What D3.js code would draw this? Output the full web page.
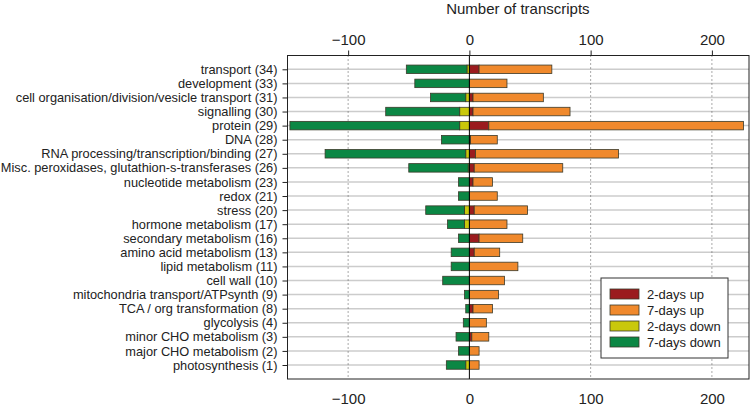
<!DOCTYPE html>
<html><head><meta charset="utf-8">
<script src="https://cdn.jsdelivr.net/npm/d3@7/dist/d3.min.js"></script>
<style>body{margin:0;background:#fff}svg{display:block;font-family:"Liberation Sans",Arial,sans-serif}</style>
</head><body><svg id="c" width="750" height="406"></svg>
<script>
const categories = ["transport (34)","development (33)","cell organisation/division/vesicle transport (31)","signalling (30)","protein (29)","DNA (28)","RNA processing/transcription/binding (27)","Misc. peroxidases, glutathion-s-transferases (26)","nucleotide metabolism (23)","redox (21)","stress (20)","hormone metabolism (17)","secondary metabolism (16)","amino acid metabolism (13)","lipid metabolism (11)","cell wall (10)","mitochondria transport/ATPsynth (9)","TCA / org transformation (8)","glycolysis (4)","minor CHO metabolism (3)","major CHO metabolism (2)","photosynthesis (1)"];
const up2   = [8, 0, 3, 3, 16, 1, 5, 4, 3, 0, 4, 0, 8, 4, 0, 0, 0, 3, 0, 2, 0, 0];
const up7   = [60, 31, 58, 80, 210, 22, 118, 73, 16, 23, 44, 31, 36, 21, 40, 29, 24, 16, 14, 14, 8, 8];
const down2 = [2, 0, 3, 8, 8, 0, 3, 1, 0, 0, 4, 4, 0, 0, 0, 0, 0, 0, 0, 0, 0, 3];
const down7 = [50, 45, 29, 61, 140, 23, 116, 49, 9, 9, 32, 14, 9, 15, 15, 22, 4, 3, 5, 11, 9, 16];
const xTicks = [-100, 0, 100, 200];
const seriesNames = ["2-days up","7-days up","2-days down","7-days down"];
const seriesColors = ["#9b1b1e","#f0892c","#c9c80b","#0b8744"];

const FONT = "Liberation Sans, Arial, sans-serif";
const svg = d3.select("#c");
const L = 287.5, R = 749, T = 55.5, B = 379;
const x = d3.scaleLinear().domain([-150, 230.6]).range([L, R]);
const y = d3.scalePoint().domain(categories).range([69.3, 365]);
const bh = 8.5;

// horizontal grid
svg.append("g").selectAll("line").data(categories).join("line")
  .attr("x1", L).attr("x2", R).attr("y1", d => y(d)).attr("y2", d => y(d))
  .attr("stroke", "#cccccc").attr("stroke-width", 1.5);
// vertical dotted grid
svg.append("g").selectAll("line").data(xTicks.filter(t => t !== 0)).join("line")
  .attr("x1", d => x(d)).attr("x2", d => x(d)).attr("y1", T).attr("y2", B)
  .attr("stroke", "#555").attr("stroke-width", 1).attr("stroke-dasharray", "1,3");

// stacked bars
const rows = categories.map((c, i) => ({c, segs: [
  {s: 0, a: 0, b: up2[i]},
  {s: 1, a: up2[i], b: up2[i] + up7[i]},
  {s: 2, a: -down2[i], b: 0},
  {s: 3, a: -down2[i] - down7[i], b: -down2[i]}
]}));
const g = svg.append("g");
rows.forEach(r => {
  r.segs.forEach(sg => {
    if (sg.b - sg.a <= 0) return;
    g.append("rect")
      .attr("x", x(sg.a)).attr("width", x(sg.b) - x(sg.a))
      .attr("y", y(r.c) - bh / 2).attr("height", bh)
      .attr("fill", seriesColors[sg.s]).attr("stroke", "#3a3a2a").attr("stroke-width", 0.8);
  });
});
// zero line
svg.append("line").attr("x1", x(0)).attr("x2", x(0)).attr("y1", T).attr("y2", B)
  .attr("stroke", "#000").attr("stroke-width", 1);

// box
svg.append("rect").attr("x", L).attr("y", T).attr("width", R - L).attr("height", B - T)
  .attr("fill", "none").attr("stroke", "#222").attr("stroke-width", 1);

// y axis
const yAx = svg.append("g").attr("transform", `translate(${L},0)`)
  .call(d3.axisLeft(y).tickSize(5).tickPadding(5));
yAx.select(".domain").remove();
yAx.selectAll("text").attr("font-size", 12.8).attr("fill", "#222").attr("font-family", FONT);
yAx.selectAll("line").attr("stroke", "#222");

// top axis
const tAx = svg.append("g").attr("transform", `translate(0,${T})`)
  .call(d3.axisTop(x).tickValues(xTicks).tickSize(5).tickPadding(6).tickFormat(d3.format("d")));
tAx.select(".domain").remove();
tAx.selectAll("text").attr("font-size", 15).attr("fill", "#222").attr("font-family", FONT);
tAx.selectAll("line").attr("stroke", "#222");
// bottom axis (labels only)
const bAx = svg.append("g").attr("transform", `translate(0,${B})`)
  .call(d3.axisBottom(x).tickValues(xTicks).tickSize(0).tickPadding(14).tickFormat(d3.format("d")));
bAx.select(".domain").remove();
bAx.selectAll("text").attr("font-size", 15).attr("fill", "#222").attr("font-family", FONT);

// title
svg.append("text").attr("x", x(40)).attr("y", 14).attr("text-anchor", "middle")
  .attr("font-size", 15).attr("fill", "#222").attr("font-family", FONT).text("Number of transcripts");

// legend
const lg = svg.append("g").attr("transform", "translate(601,278)");
lg.append("rect").attr("width", 127).attr("height", 80).attr("fill", "#fff").attr("stroke", "#333");
seriesNames.forEach((n, i) => {
  const yy = 16 + i * 16;
  lg.append("rect").attr("x", 9).attr("y", yy - 5).attr("width", 29).attr("height", 10)
    .attr("fill", seriesColors[i]).attr("stroke", "#3a3a2a").attr("stroke-width", 0.8);
  lg.append("text").attr("x", 46).attr("y", yy).attr("dy", "0.35em")
    .attr("font-size", 13).attr("fill", "#222").attr("font-family", FONT).text(n);
});
</script></body></html>
